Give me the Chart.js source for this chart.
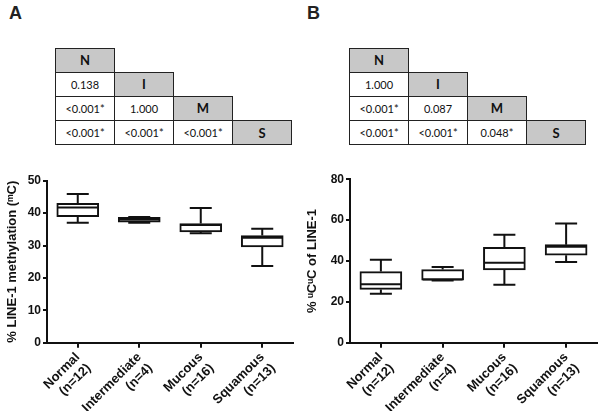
<!DOCTYPE html>
<html>
<head>
<meta charset="utf-8">
<script src="https://cdn.jsdelivr.net/npm/chart.js@4"></script>
<style>
  body { margin: 0; background: #fff; }
  #page { position: relative; width: 600px; height: 411px; overflow: hidden; }
  .letter { position: absolute; top: 3px; font: bold 18px "Liberation Sans", Arial, sans-serif; color: #222; }
  .cell { position: absolute; box-sizing: border-box; border: 1px solid #222; display: flex;
          align-items: center; justify-content: center; font: 11px Lato, "Open Sans", sans-serif; color: #111; background: #fff; }
  .cell.head { background: #c8c8c8; font: bold 13px Lato, "Open Sans", sans-serif; }
  canvas { position: absolute; }
</style>
</head>
<body>
<div id="page">
  <div class="letter" style="left:9px">A</div>
  <div class="letter" style="left:307px">B</div>
  <div id="tabA"></div>
  <div id="tabB"></div>
  <div style="position:absolute;left:0;top:165px;width:300px;height:246px"><canvas id="chartA"></canvas></div>
  <div style="position:absolute;left:300px;top:165px;width:300px;height:246px"><canvas id="chartB"></canvas></div>
</div>
<script>
// groups
let groups = ["Normal", "Intermediate", "Mucous", "Squamous"];
let counts = [12, 4, 16, 13];
let shortNames = ["N", "I", "M", "S"];

// pairwise p values (lower triangle, row by row)
let pA = [[], ["0.138"], ["<0.001*", "1.000"], ["<0.001*", "<0.001*", "<0.001*"]];
let pB = [[], ["1.000"], ["<0.001*", "0.087"], ["<0.001*", "<0.001*", "0.048*"]];

// panel A: LINE-1 methylation (mC)
let minA = [37.0, 37.0, 33.8, 23.7];
let q1A  = [38.9, 37.2, 34.2, 29.6];
let medA = [41.7, 38.0, 36.3, 32.4];
let q3A  = [43.0, 38.7, 36.8, 33.1];
let maxA = [45.9, 38.8, 41.6, 35.2];

// panel B: uCuC of LINE-1
let minB = [24.0, 30.4, 28.4, 39.5];
let q1B  = [26.1, 30.6, 35.6, 42.8];
let medB = [28.6, 31.0, 39.2, 47.0];
let q3B  = [34.8, 35.8, 46.7, 48.0];
let maxB = [40.6, 37.1, 52.9, 58.3];

let labels = groups.map((g, i) => [g, "(n=" + counts[i] + ")"]);

function buildTable(id, left, top, pvals) {
  let el = document.getElementById(id);
  let cw = 59, rh = 24.2;
  pvals.forEach((row, r) => {
    row.forEach((txt, c) => {
      let d = document.createElement("div");
      d.className = "cell";
      d.style.cssText = `left:${left + c * cw}px;top:${top + r * rh}px;width:${cw + 1}px;height:${rh + 1}px`;
      d.textContent = txt;
      el.appendChild(d);
    });
    let h = document.createElement("div");
    h.className = "cell head";
    h.style.cssText = `left:${left + r * cw}px;top:${top + r * rh}px;width:${cw + 1}px;height:${rh + 1}px`;
    h.textContent = shortNames[r];
    el.appendChild(h);
  });
}
buildTable("tabA", 55, 47.5, pA);
buildTable("tabB", 349, 47.5, pB);

// whiskers + median drawn with the chart's own scales
function boxExtras(mins, meds, maxs, q1s, q3s) {
  return {
    id: "boxExtras",
    afterDatasetsDraw(chart) {
      let ctx = chart.ctx, xs = chart.scales.x, ys = chart.scales.y;
      let bars = chart.getDatasetMeta(0).data;
      ctx.save();
      ctx.strokeStyle = "#111";
      ctx.lineWidth = 2;
      mins.forEach((v, i) => {
        let cx = xs.getPixelForValue(i);
        let half = bars[i].width / 2 - 1;
        let cap = 11;
        let yMin = ys.getPixelForValue(v), yMax = ys.getPixelForValue(maxs[i]);
        let yQ1 = ys.getPixelForValue(q1s[i]), yQ3 = ys.getPixelForValue(q3s[i]);
        let yMed = ys.getPixelForValue(meds[i]);
        ctx.beginPath();
        ctx.moveTo(cx, yQ3); ctx.lineTo(cx, yMax);
        ctx.moveTo(cx - cap, yMax); ctx.lineTo(cx + cap, yMax);
        ctx.moveTo(cx, yQ1); ctx.lineTo(cx, yMin);
        ctx.moveTo(cx - cap, yMin); ctx.lineTo(cx + cap, yMin);
        ctx.moveTo(cx - half, yMed); ctx.lineTo(cx + half, yMed);
        ctx.stroke();
      });
      ctx.restore();
    }
  };
}

function makeChart(id, q1s, q3s, mins, meds, maxs, yMax, step, title, axisW, padTop, padRight) {
  let tickFont = { family: "'Liberation Sans', Arial, sans-serif", size: 12, weight: "bold" };
  return new Chart(document.getElementById(id), {
    type: "bar",
    data: {
      labels: labels,
      datasets: [{
        data: q1s.map((v, i) => [v, q3s[i]]),
        backgroundColor: "#fff",
        borderColor: "#111",
        borderWidth: 2,
        borderSkipped: false,
        barThickness: 42
      }]
    },
    options: {
      responsive: true,
      maintainAspectRatio: false,
      animation: false,
      layout: { padding: { top: padTop, right: padRight, left: 0, bottom: 0 } },
      plugins: { legend: { display: false }, tooltip: { enabled: false } },
      scales: {
        x: {
          grid: { display: true, drawOnChartArea: false, offset: false, tickLength: 5, tickColor: "#111", lineWidth: 2 },
          border: { color: "#111", width: 2 },
          ticks: { color: "#111", font: { family: "'Liberation Sans', Arial, sans-serif", size: 13, weight: "bold" },
                   minRotation: 45, maxRotation: 45, padding: 2, autoSkip: false },
          afterFit: s => { s.height = 68.3; }
        },
        y: {
          min: 0, max: yMax,
          grid: { display: true, drawOnChartArea: false, tickLength: 4, tickColor: "#111", lineWidth: 2 },
          border: { color: "#111", width: 2 },
          ticks: { stepSize: step, color: "#111", font: tickFont, padding: 2 },
          title: { display: true, text: title, color: "#111", padding: { top: 5, bottom: 0 },
                   font: { family: "'Liberation Sans', Arial, sans-serif", size: 13, weight: "bold" } },
          afterFit: s => { s.width = axisW; }
        }
      }
    },
    plugins: [boxExtras(mins, meds, maxs, q1s, q3s)]
  });
}

makeChart("chartA", q1A, q3A, minA, medA, maxA, 50, 10, "% LINE-1 methylation (\u1D50C)", 47, 15.7, 7);
makeChart("chartB", q1B, q3B, minB, medB, maxB, 80, 20, "% \u1D58C\u1D58C of LINE-1", 50, 14.3, 3);
</script>
</body>
</html>
